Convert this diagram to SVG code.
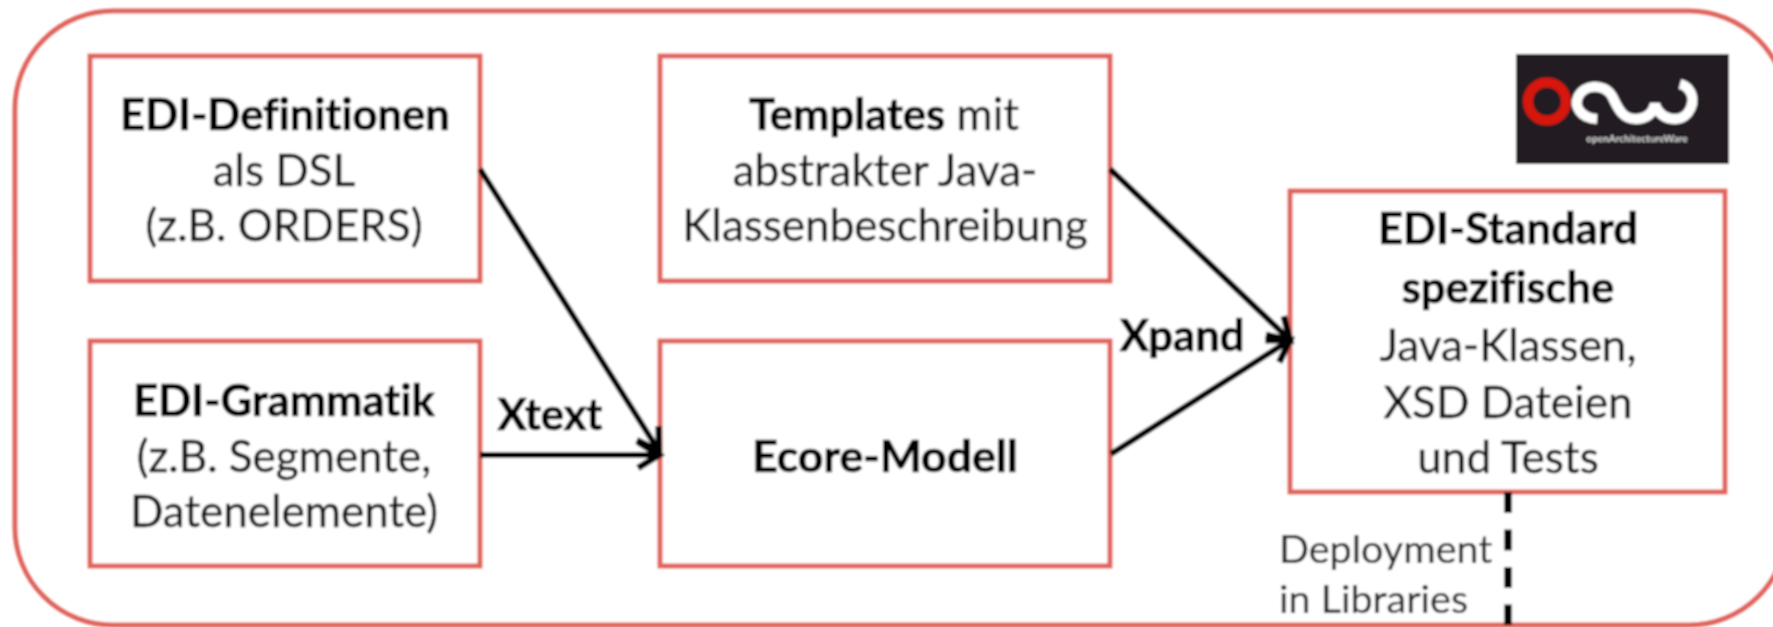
<svg xmlns="http://www.w3.org/2000/svg" width="1773" height="627" viewBox="0 0 1773 627">
<style>
.box{fill:#fff;stroke:#e0645c;stroke-width:5}
.t{font-family:Lato,"Open Sans",sans-serif;font-size:44px;fill:#111;stroke:#111;stroke-width:.4;text-anchor:middle;font-variant-ligatures:none}
.b{font-weight:700;fill:#000;stroke:#000;stroke-width:.7;font-size:43.5px}
.s{font-size:39.5px;text-anchor:start;fill:#222;stroke:#222;stroke-width:.2}
.c{fill:none;stroke:#000;stroke-width:6}
</style>
<defs>
<filter id="soft" filterUnits="userSpaceOnUse" x="0" y="0" width="1773" height="627"><feGaussianBlur stdDeviation="0.8"/></filter>
<marker id="arr" markerUnits="userSpaceOnUse" markerWidth="40" markerHeight="50" refX="30" refY="25" orient="auto" viewBox="0 0 40 50"><path d="M9 12L30 25L9 38" fill="none" stroke="#000" stroke-width="6.5"/></marker>
</defs>
<rect width="1773" height="627" fill="#fff"/>
<g filter="url(#soft)">
<rect id="frame" x="15" y="11" width="1772" height="614" rx="98" ry="98" fill="#fff" stroke="#e0645c" stroke-width="5"/>
<g id="edi-definitionen"><rect class="box" x="90" y="56" width="390" height="225"/>
<text class="t b" x="285" y="130">EDI-Definitionen</text><text class="t" x="284" y="186">als DSL</text><text class="t" x="284" y="241">(z.B. ORDERS)</text></g>
<g id="edi-grammatik"><rect class="box" x="90" y="341" width="390" height="225"/>
<text class="t b" x="284" y="416">EDI-Grammatik</text><text class="t" x="284" y="472">(z.B. Segmente,</text><text class="t" x="284" y="527">Datenelemente)</text></g>
<g id="templates"><rect class="box" x="660" y="56" width="450" height="225"/>
<text class="t" x="884" y="130"><tspan class="b">Templates</tspan> mit</text><text class="t" x="885" y="186">abstrakter Java-</text><text class="t" x="885" y="241">Klassenbeschreibung</text></g>
<g id="ecore-modell"><rect class="box" x="660" y="341" width="450" height="225"/>
<text class="t b" x="885" y="472" style="font-size:44.5px">Ecore-Modell</text></g>
<g id="edi-standard"><rect class="box" x="1290" y="191" width="435" height="301"/>
<text class="t b" x="1508" y="244">EDI-Standard</text><text class="t b" x="1508" y="303">spezifische</text><text class="t" x="1508" y="361">Java-Klassen,</text><text class="t" x="1508" y="418">XSD Dateien</text><text class="t" x="1508" y="473">und Tests</text></g>
<g id="connectors">
<path class="c" d="M480 169L659 451" marker-end="url(#arr)"/>
<path class="c" d="M480 455H659" marker-end="url(#arr)"/>
<path class="c" d="M1110 169L1290 340" marker-end="url(#arr)"/>
<path class="c" d="M1111 454L1290 340" marker-end="url(#arr)"/>
<path d="M1508 492V625" fill="none" stroke="#000" stroke-width="7.5" stroke-dasharray="21 16.5"/>
</g>
<g id="labels">
<text class="t b" x="550" y="430">Xtext</text>
<text class="t b" x="1182" y="351">Xpand</text>
<text class="t s" x="1279" y="563">Deployment</text>
<text class="t s" x="1279" y="613">in Libraries</text>
</g>
<g id="logo"><rect x="1516" y="54" width="213" height="110" fill="#231f20"/>
<circle cx="1547" cy="101.5" r="19" fill="none" stroke="#d7190f" stroke-width="10"/>
<path d="M1597 119C1580 118 1574 106 1578 97C1584 84 1604 83 1612 96C1618 108 1622 119 1636 119C1648 119 1653 112 1655 104C1657 112 1664 119 1675 119C1690 119 1697 100 1689 90C1687 87 1684 85 1680 84" fill="none" stroke="#fff" stroke-width="10"/>
<text x="1637" y="142" font-family="Lato,sans-serif" font-size="10" font-weight="700" fill="#ddd" text-anchor="middle">openArchitectureWare</text></g>
</g>
</svg>
